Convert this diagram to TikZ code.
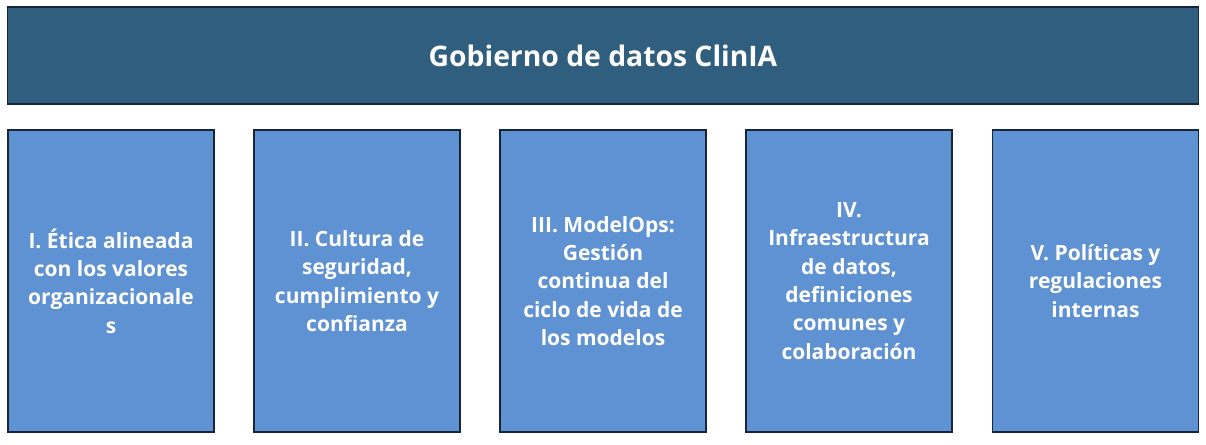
\documentclass[tikz,border=0pt]{standalone}
\usepackage{fontspec}
\setmainfont{Open Sans}
\definecolor{banner}{HTML}{305E7E}
\definecolor{boxfill}{HTML}{5F92D2}
\definecolor{edge}{HTML}{16263A}
\begin{document}
\begin{tikzpicture}[x=1pt,y=-1pt,
  frame/.style={draw=edge,line width=1.3pt},
  pillar/.style={frame,fill=boxfill,minimum width=206pt,minimum height=302pt,
    text=white,align=center,font=\fontsize{21}{28.4}\selectfont\bfseries,inner sep=0pt},
  title/.style={frame,fill=banner,minimum width=1191pt,minimum height=97pt,
    text=white,font=\fontsize{28.3}{30}\selectfont\bfseries}]
\useasboundingbox (0,0) rectangle (1206,444);
\node[title] (top) at (603,55.5) {Gobierno de datos ClinIA};
\node[pillar] (p1) at (111,281) {I. Ética alineada\\con los valores\\organizacionale\\s};
\node[pillar] (p2) at (357,281) {II. Cultura de\\seguridad,\\cumplimiento y\\confianza};
\node[pillar] (p3) at (603,281) {III. ModelOps:\\Gestión\\continua del\\ciclo de vida de\\los modelos};
\node[pillar] (p4) at (849,281) {IV.\\Infraestructura\\de datos,\\definiciones\\comunes y\\colaboración};
\node[pillar] (p5) at (1095.5,281) {V. Políticas y\\regulaciones\\internas};
\end{tikzpicture}
\end{document}
